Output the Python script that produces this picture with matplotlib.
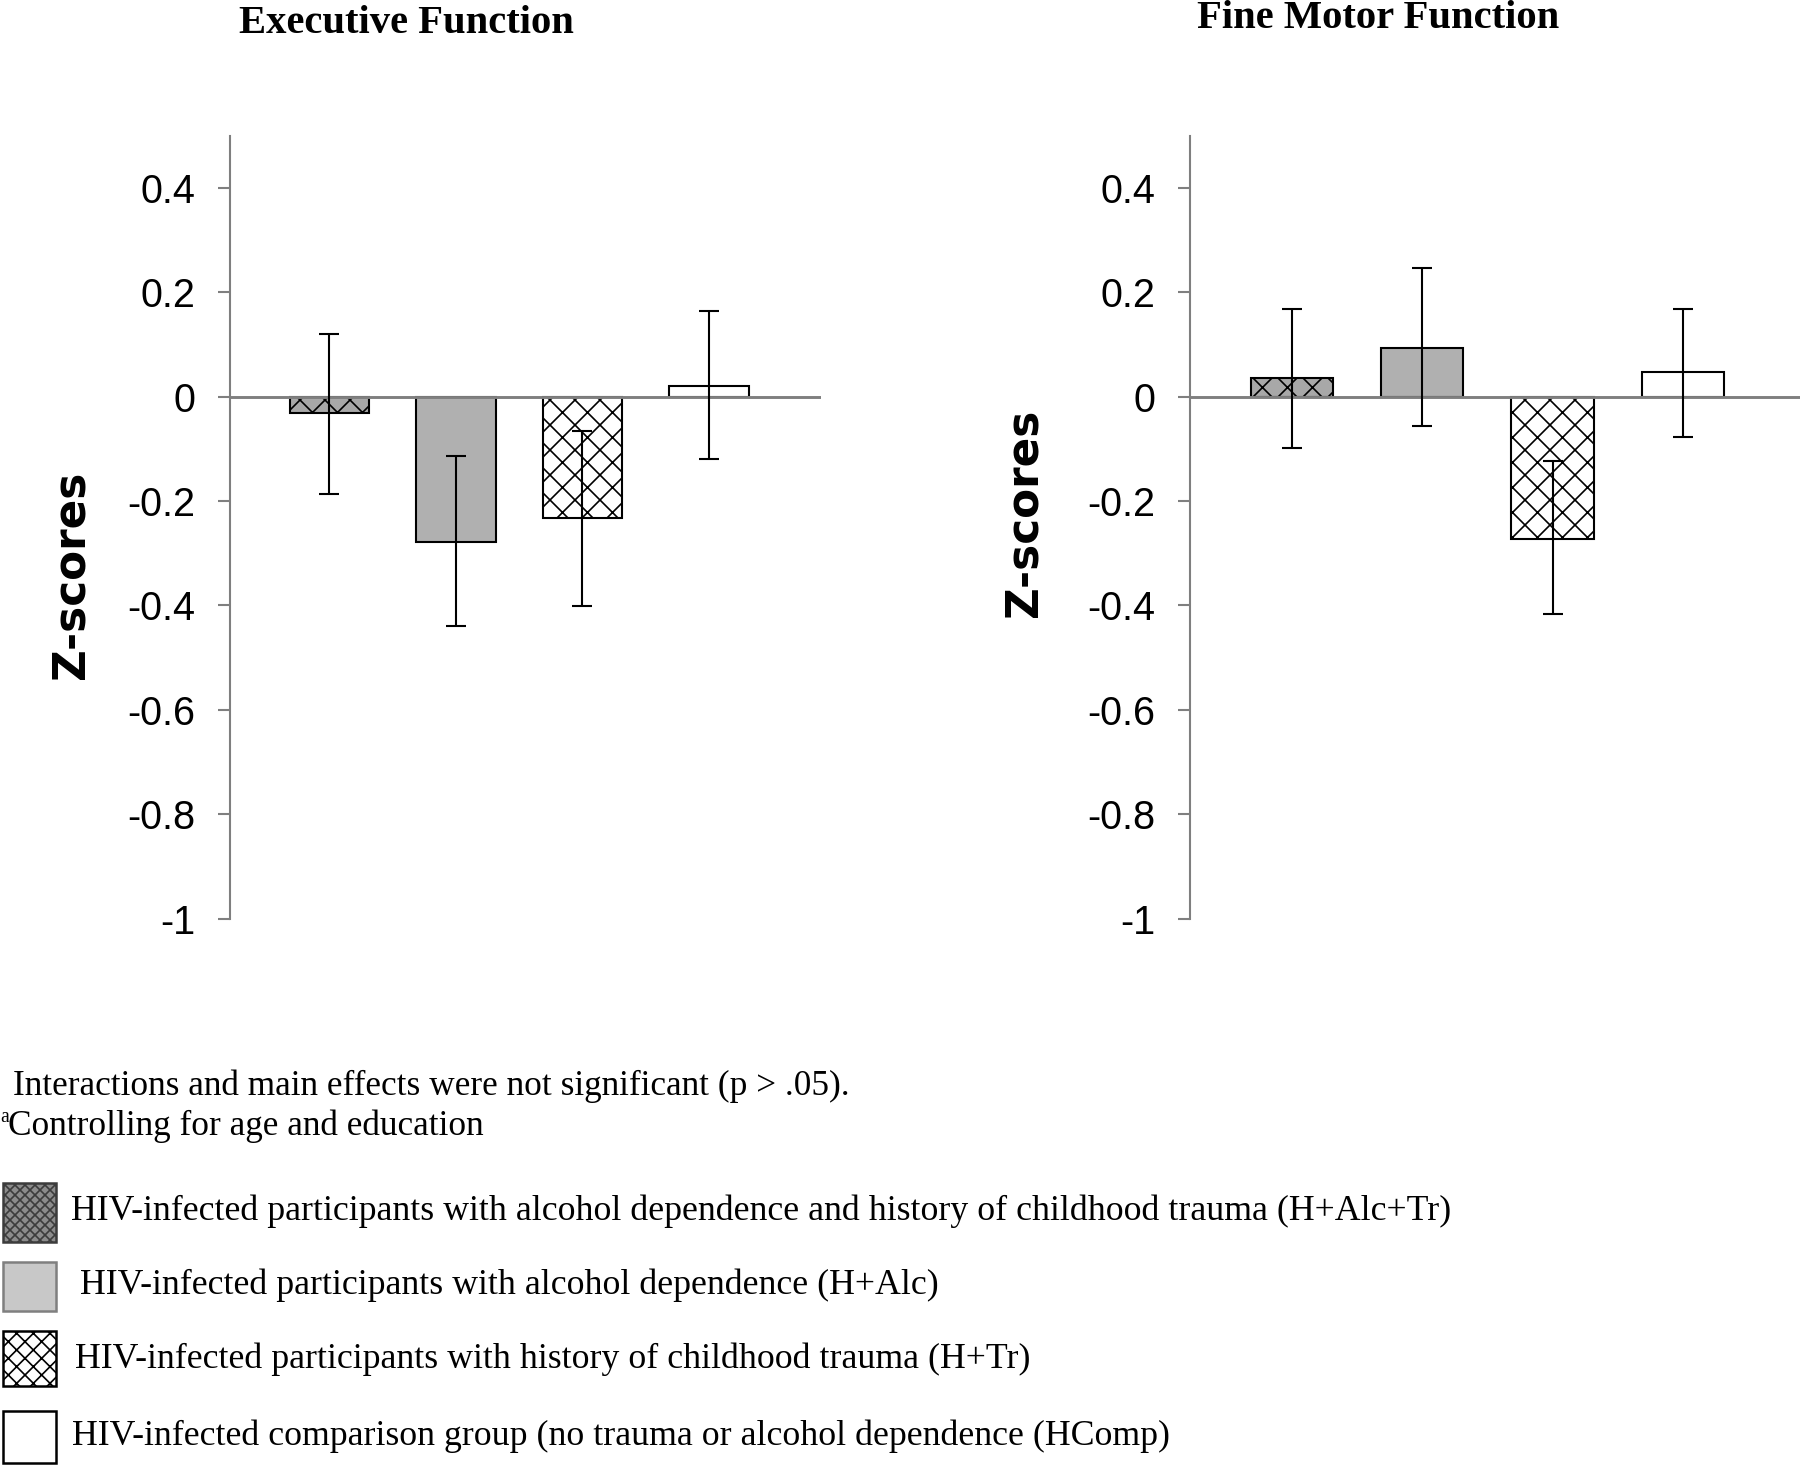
import numpy as np
import matplotlib
matplotlib.use('Agg')
import matplotlib.pyplot as plt
from matplotlib.patches import Rectangle

groups = ['H+Alc+Tr', 'H+Alc', 'H+Tr', 'HComp']

exec_mean = [-0.032, -0.279, -0.233, 0.021]
exec_lo = [-0.186, -0.439, -0.402, -0.119]
exec_hi = [0.119, -0.114, -0.067, 0.164]

motor_mean = [0.036, 0.092, -0.273, 0.046]
motor_lo = [-0.099, -0.057, -0.416, -0.078]
motor_hi = [0.168, 0.246, -0.124, 0.168]

yticks = [0.4, 0.2, 0, -0.2, -0.4, -0.6, -0.8, -1]
ytick_labels = ['0.4', '0.2', '0', '-0.2', '-0.4', '-0.6', '-0.8', '-1']

legend_labels = [
    'HIV-infected participants with alcohol dependence and history of childhood trauma (H+Alc+Tr)',
    ' HIV-infected participants with alcohol dependence (H+Alc)',
    'HIV-infected participants with history of childhood trauma (H+Tr)',
    'HIV-infected comparison group (no trauma or alcohol dependence (HComp)',
]

note1 = 'Interactions and main effects were not significant (p > .05).'
note2 = 'Controlling for age and education'

faces = ['#a8a8a8', '#b0b0b0', 'white', 'white']
hatches = ['xx', '', 'xx', '']

plt.rcParams['hatch.linewidth'] = 0.8
tickfont = ['Liberation Sans Narrow', 'DejaVu Sans Condensed', 'Liberation Sans']
serif = 'Liberation Serif'

W, H = 1800, 1465
fig = plt.figure(figsize=(12, H / 150), dpi=150)


def fx(px):
    return px / W


def fy(py):
    return 1 - py / H


def draw_panel(rect, means, lo, hi, xlim):
    ax = fig.add_axes(rect)
    x = np.arange(len(means))
    m = np.array(means)
    ax.bar(x, m, width=0.63, color=faces, edgecolor='black',
           linewidth=1.0, zorder=2)
    for b, h in zip(ax.patches, hatches):
        if h:
            b.set_hatch(h)
    ax.axhline(0, color='#7f7f7f', lw=1.4, zorder=3)
    ax.errorbar(x, m, yerr=[m - np.array(lo), np.array(hi) - m], fmt='none',
                ecolor='black', elinewidth=1.0, capsize=5, capthick=1.0, zorder=4)
    ax.set_xlim(*xlim)
    ax.set_ylim(-1, 0.5)
    for s in ['top', 'right', 'bottom']:
        ax.spines[s].set_visible(False)
    ax.spines['left'].set_color('#7f7f7f')
    ax.spines['left'].set_linewidth(1.0)
    ax.set_xticks([])
    ax.set_yticks(yticks)
    ax.set_yticklabels(ytick_labels, family=tickfont, fontsize=19)
    ax.tick_params(axis='y', length=5.8, width=1.0, color='#7f7f7f', pad=11)
    return ax


ax_b = 918.5
ax_t = 135.5
draw_panel([fx(230), fy(ax_b), fx(821 - 230), (ax_b - ax_t) / H],
           exec_mean, exec_lo, exec_hi, (-0.786, 3.886))
draw_panel([fx(1190), fy(ax_b), fx(1800 - 1190), (ax_b - ax_t) / H],
           motor_mean, motor_lo, motor_hi, (-0.783, 3.90))

fig.text(fx(406), fy(33), 'Executive Function', family=serif, weight='bold',
         fontsize=19.5, ha='center', va='baseline')
fig.text(fx(1378), fy(28), 'Fine Motor Function', family=serif, weight='bold',
         fontsize=19.5, ha='center', va='baseline')

fig.text(fx(71), fy(575), 'Z-scores', family='DejaVu Sans', weight='bold',
         fontsize=21, rotation=90, ha='center', va='center')
fig.text(fx(1024), fy(513), 'Z-scores', family='DejaVu Sans', weight='bold',
         fontsize=21, rotation=90, ha='center', va='center')

# notes
fig.text(fx(13), fy(1095), note1, family=serif, fontsize=16.9, va='baseline')
fig.text(fx(0), fy(1122), 'a', family=serif, fontsize=9.5, va='baseline')
fig.text(fx(8), fy(1135), note2, family=serif, fontsize=16.9, va='baseline')

# legend
leg_boxes = [(1183, 1242), (1262, 1311), (1331, 1386), (1411, 1463)]
leg_x = [71, 71, 75, 72]
leg_base = [1220, 1294, 1368, 1445]
leg_face = ['#8c8c8c', '#c8c8c8', 'white', 'white']
leg_edge = ['#3c3c3c', '#7f7f7f', 'black', 'black']
leg_hatch = ['xxxxx', None, 'xxx', None]
for (t, b), lx, lb, fc, ec, hh, lab in zip(leg_boxes, leg_x, leg_base, leg_face,
                                           leg_edge, leg_hatch, legend_labels):
    r = Rectangle((fx(3), fy(b)), fx(53), (b - t) / H, transform=fig.transFigure,
                  facecolor=fc, edgecolor=ec, hatch=hh, linewidth=1.2)
    fig.patches.append(r)
    fig.text(fx(lx), fy(lb), lab, family=serif, fontsize=17.2, va='baseline')

fig.savefig('out.png', dpi=150)
